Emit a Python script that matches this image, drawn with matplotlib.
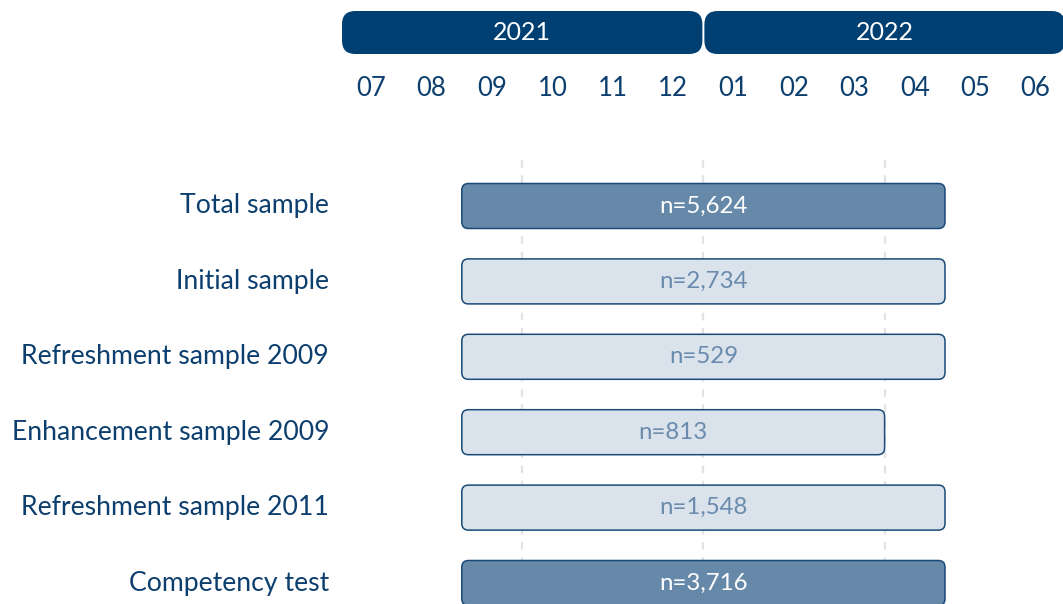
import matplotlib.pyplot as plt
from matplotlib.patches import FancyBboxPatch

plt.rcParams['font.family'] = ['Lato', 'DejaVu Sans']
plt.rcParams['lines.scale_dashes'] = False

# timeline: Jul 2021 .. Jun 2022
years = ["2021", "2022"]
months = ["07", "08", "09", "10", "11", "12", "01", "02", "03", "04", "05", "06"]
grid_months = ["2021-10", "2022-01", "2022-04"]

# samples
labels = ["Total sample", "Initial sample", "Refreshment sample 2009",
          "Enhancement sample 2009", "Refreshment sample 2011", "Competency test"]
n_values = ["5,624", "2,734", "529", "813", "1,548", "3,716"]
start_month = ["2021-09"] * 6
end_month = ["2022-04", "2022-04", "2022-04", "2022-03", "2022-04", "2022-04"]
highlight = [True, False, False, False, False, True]

DARK = "#003F71"
TEXT = "#0D3F6E"
BAR_DARK = "#6689AA"
BAR_LIGHT = "#DAE2EB"
BAR_EDGE = "#1A4A78"
LIGHT_TXT = "#6A8BAD"


def month_index(s):
    # months since Jul 2021; end months are inclusive
    y, m = s.split("-")
    return (int(y) - 2021) * 12 + int(m) - 7


fig = plt.figure(figsize=(10.63, 6.04), dpi=100)
ax = fig.add_axes([0, 0, 1, 1])
ax.axis("off")

px_month, x0 = 60.4, 341
px_row, y0 = 75.4, 206
ax.set_xlim(-x0 / px_month, (1063 - x0) / px_month)
ax.set_ylim((604 - y0) / px_row, -y0 / px_row)
aspect = px_month / px_row

# year headers
head_y = (32.5 - y0) / px_row
head_h = 43 / px_row
for k, yr in enumerate(years):
    xs = k * 6 + 1.0 / px_month
    w = 6 - 2.0 / px_month
    box = FancyBboxPatch((xs, head_y - head_h / 2), w, head_h,
                         boxstyle="round,pad=0,rounding_size=0.22",
                         mutation_aspect=aspect, fc=DARK, ec="none")
    ax.add_patch(box)
    ax.text(k * 6 + 3, head_y, yr, ha="center", va="center",
            color="white", fontsize=18)

# month labels
mon_y = (88 - y0) / px_row
for i, m in enumerate(months):
    ax.text(i + 0.5, mon_y, m, ha="center", va="center", color=TEXT, fontsize=18.5)

# dashed quarter lines
grid_x = [month_index(g) for g in grid_months]
ax.vlines(grid_x, (160 - y0) / px_row, (604 - y0) / px_row,
          colors="#E3E3E3", linewidth=1.6, linestyles=(0, (5.5, 5.5)), zorder=1)

# bars
bar_h = 45 / px_row
for i, lab in enumerate(labels):
    s = month_index(start_month[i])
    e = month_index(end_month[i]) + 1
    fc = BAR_DARK if highlight[i] else BAR_LIGHT
    tc = "white" if highlight[i] else LIGHT_TXT
    bar = FancyBboxPatch((s, i - bar_h / 2), e - s, bar_h,
                         boxstyle="round,pad=0,rounding_size=0.11",
                         mutation_aspect=aspect, fc=fc, ec=BAR_EDGE,
                         lw=1.1, zorder=2)
    ax.add_patch(bar)
    ax.text((s + e) / 2, i, "n=" + n_values[i], ha="center", va="center",
            color=tc, fontsize=17.3, zorder=3)
    ax.text(-12 / px_month, i, lab, ha="right", va="center",
            color=TEXT, fontsize=19.2)

fig.savefig("out.png", dpi=100)
